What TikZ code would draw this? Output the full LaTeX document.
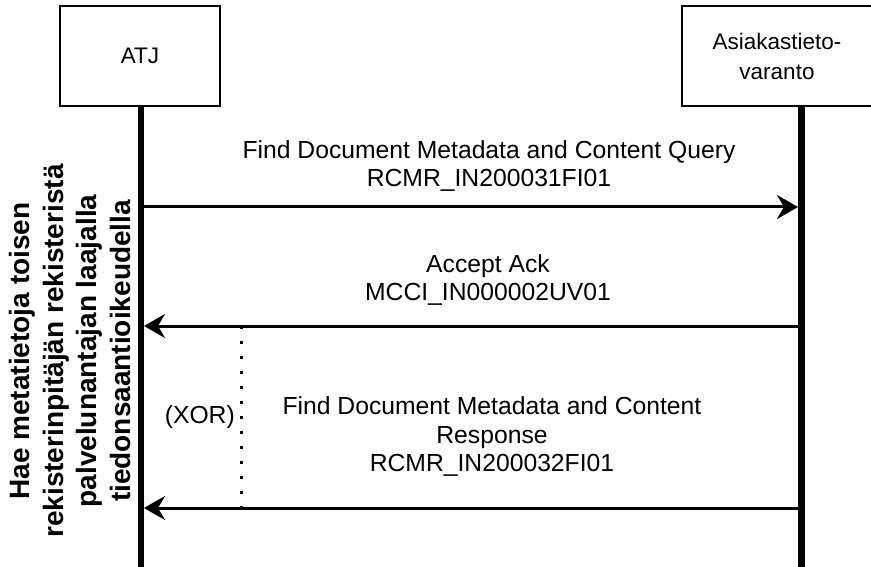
\documentclass[tikz,border=0pt]{standalone}
\usepackage{fontspec}
\setmainfont{Liberation Sans}
\usetikzlibrary{arrows.meta}
\begin{document}
\begin{tikzpicture}[x=1pt,y=-1pt,
  actor/.style={draw, line width=1.5pt, minimum width=160pt, minimum height=100pt,
    inner sep=0pt, align=center, font=\fontsize{22.5}{30}\selectfont},
  lifeline/.style={line width=6.5pt},
  msg/.style={line width=3pt, -{Stealth[length=21pt,width=24pt,inset=7pt]}},
  msglabel/.style={align=center, inner sep=0pt, font=\fontsize{24.7}{28.5}\selectfont},
  xorline/.style={line width=3pt, dash pattern=on 3pt off 12pt}]
\useasboundingbox (0,0) rectangle (871,567);
\fill[white] (0,0) rectangle (871,567);

% participants
\node[actor] (atj) at (140,56) {ATJ};
\node[actor, minimum width=190pt] (atv) at (777,56) {Asiakastieto-\\varanto};

% lifelines
\coordinate (atjtop) at (141,106);
\coordinate (atjend) at (141,567);
\coordinate (atvtop) at (801.5,106);
\coordinate (atvend) at (801.5,567);
\draw[lifeline] (atjtop) -- (atjend);
\draw[lifeline] (atvtop) -- (atvend);

% message end points on the lifelines
\coordinate (q1) at (141,207);
\coordinate (q2) at (798,207);
\coordinate (a1) at (801.5,326);
\coordinate (a2) at (144,326);
\coordinate (r1) at (801.5,508);
\coordinate (r2) at (144,508);

\draw[msg] (q1) -- (q2);
\draw[msg] (a1) -- (a2);
\draw[msg] (r1) -- (r2);

% labels
\node[msglabel] (lq) at (489,166) {Find Document Metadata and Content Query\\RCMR\_IN200031FI01};
\node[msglabel] (la) at (488,280) {Accept Ack\\MCCI\_IN000002UV01};
\node[msglabel] (lr) at (492,437) {Find Document Metadata and Content\\Response\\RCMR\_IN200032FI01};

% alternative marker
\coordinate (x1) at (241,326);
\coordinate (x2) at (241,508);
\draw[xorline] (x1) -- (x2);
\node[msglabel, anchor=east] (xor) at (235,417) {(XOR)};

% use case title
\node[rotate=90, align=center, inner sep=0pt,
  font=\fontsize{28}{33.7}\selectfont\bfseries] (title) at (70,351)
  {Hae metatietoja toisen\\rekisterinpitäjän rekisteristä\\palvelunantajan laajalla\\tiedonsaantioikeudella};
\end{tikzpicture}
\end{document}
